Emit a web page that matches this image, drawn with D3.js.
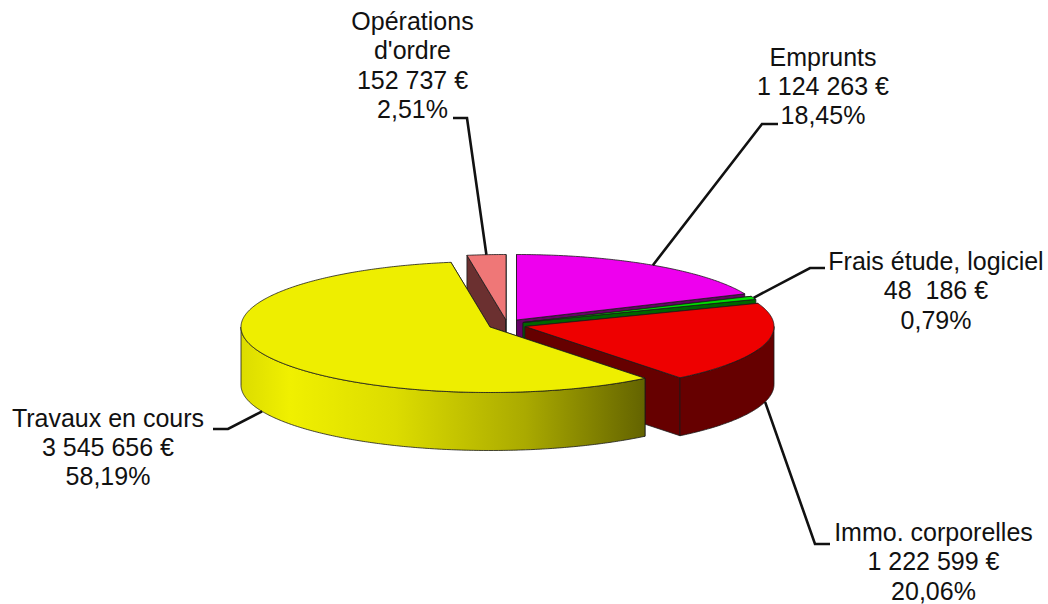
<!DOCTYPE html>
<html><head><meta charset="utf-8">
<script src="https://cdn.jsdelivr.net/npm/d3@7/dist/d3.min.js"></script>
<style>html,body{margin:0;padding:0;background:#fff}svg{display:block}</style></head>
<body><div id="chart"></div>
<script>
const categories = ["Emprunts","Frais étude, logiciel","Immo. corporelles","Travaux en cours","Opérations d'ordre"];
const values = [1124263,48186,1222599,3545656,152737];
const amountLabels = ["1 124 263 €","48  186 €","1 222 599 €","3 545 656 €","152 737 €"];
const percentLabels = ["18,45%","0,79%","20,06%","58,19%","2,51%"];
const topColors = ["#ee00ee","#00e000","#ee0000","#eeee00","#ef7777"];
const wallColors = ["#660066","#006600","#660000","#666600","#6b3030"];

const W = 1048, H = 604, RX = 249, RY = 65.5, DEPTH = 58;
const centers = [[516.5,320],[523,322.5],[525,326.5],[490,327],[506,320]];
const drawOrder = [4,0,1,2,3];
// label layout: centre x, first baseline y, elbow near text
const labelLayout = [
  {x:823,y:65.5,lines:[categories[0],amountLabels[0],percentLabels[0]],elbow:[[778,124],[762,124]]},
  {x:936,y:270,lines:[categories[1],amountLabels[1],percentLabels[1]],elbow:[[825,268],[810,268]]},
  {x:933.5,y:541,lines:[categories[2],amountLabels[2],percentLabels[2]],elbow:[[830,544],[815,544]]},
  {x:108,y:426.5,lines:[categories[3],amountLabels[3],percentLabels[3]],elbow:[[213,429],[228,429]]},
  {x:412.5,y:30,lines:["Opérations","d'ordre",amountLabels[4],percentLabels[4]],elbow:[[453,118],[467,118]]}
];
const LINE_H = 29.4;

const svg = d3.select("#chart").append("svg").attr("width",W).attr("height",H).attr("viewBox",`0 0 ${W} ${H}`);
const defs = svg.append("defs");
const grad = defs.append("linearGradient").attr("id","yellowWall").attr("gradientUnits","userSpaceOnUse")
  .attr("x1",241).attr("x2",647).attr("y1",0).attr("y2",0);
[[0,"#dcdc00"],[0.12,"#f0f000"],[0.38,"#dcdc00"],[0.7,"#aaaa00"],[1,"#626200"]].forEach(s=>grad.append("stop").attr("offset",s[0]).attr("stop-color",s[1]));

const pie = d3.pie().sort(null).value(d=>d).startAngle(0).endAngle(2*Math.PI);
const arcs = pie(values);

const lineGen = d3.line();
const pt = (c,a,dz=0) => [c[0]+RX*Math.sin(a), c[1]-RY*Math.cos(a)+dz];
const sample = (a0,a1) => { const n=Math.max(2,Math.ceil((a1-a0)/0.01)); return d3.range(n+1).map(i=>a0+(a1-a0)*i/n); };

const g = svg.append("g");
const STROKE = {stroke:"#1a1a1a","stroke-width":0.8,"stroke-linejoin":"round"};
const addPath = (pts,fill) => {
  const p = g.append("path").attr("d",lineGen(pts)+"Z").attr("fill",fill);
  Object.entries(STROKE).forEach(([k,v])=>p.attr(k,v));
};
drawOrder.forEach(i=>{
  const d = arcs[i];
  const c = centers[i], a0=d.startAngle, a1=d.endAngle;
  const wall = wallColors[i];
  // cut walls
  [a0,a1].forEach(a=>{
    addPath([[c[0],c[1]],pt(c,a),pt(c,a,DEPTH),[c[0],c[1]+DEPTH]],wall);
  });
  // outer wall, only front half is visible
  const fa0=Math.max(a0,Math.PI/2), fa1=Math.min(a1,3*Math.PI/2);
  if (fa1>fa0){
    const s=sample(fa0,fa1);
    addPath([...s.map(a=>pt(c,a)),...s.slice().reverse().map(a=>pt(c,a,DEPTH))], i===3?"url(#yellowWall)":wall);
  }
  // top face
  addPath([[c[0],c[1]],...sample(a0,a1).map(a=>pt(c,a))],topColors[i]);
});

// leader lines
arcs.forEach((d,i)=>{
  const mid=(d.startAngle+d.endAngle)/2;
  const front=Math.cos(mid)<0;
  const anchor=pt(centers[i],mid,front?DEPTH:0);
  svg.append("path").attr("d",lineGen([...labelLayout[i].elbow,anchor])).attr("fill","none")
    .attr("stroke","#111").attr("stroke-width",2.6);
});

// labels
labelLayout.forEach(l=>{
  const t=svg.append("text").attr("text-anchor","middle").attr("font-family","'Liberation Sans',Arial,sans-serif")
    .attr("font-size",25).attr("fill","#111").attr("xml:space","preserve");
  l.lines.forEach((s,j)=>t.append("tspan").attr("x",l.x).attr("y",l.y+j*LINE_H).text(s));
});
</script></body></html>
